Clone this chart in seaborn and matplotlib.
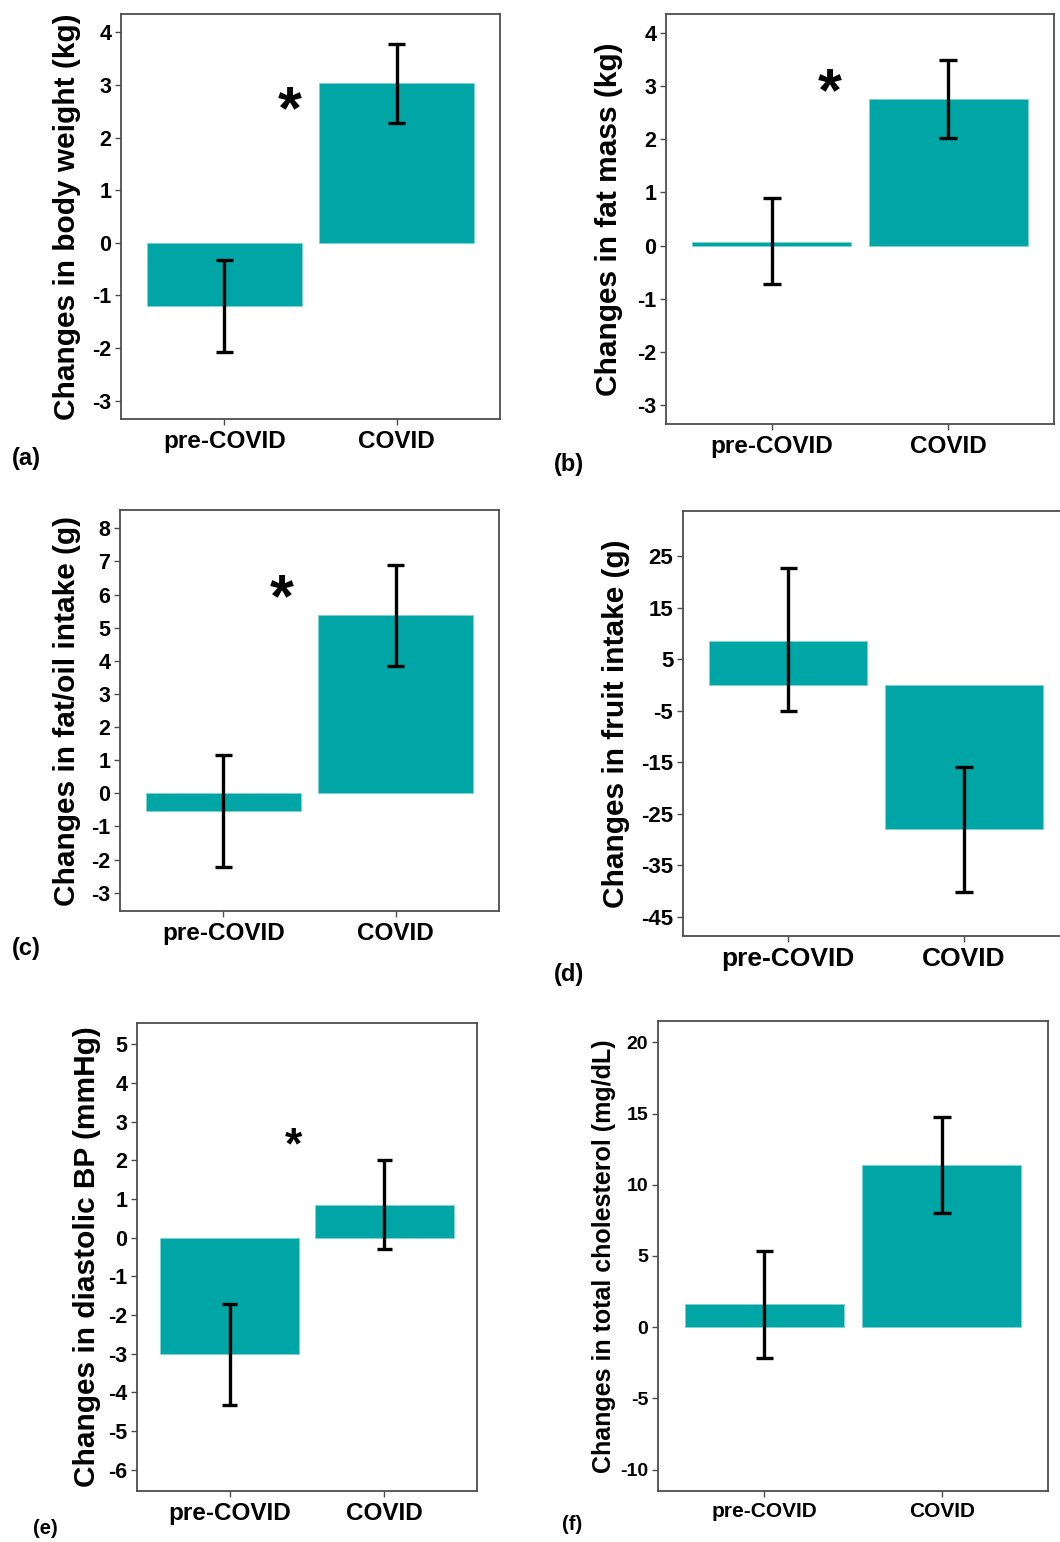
import matplotlib
matplotlib.use("Agg")
import matplotlib.pyplot as plt
import seaborn as sns
import pandas as pd
import numpy as np

# ---------------- data ----------------
groups = ["pre-COVID", "COVID"]

bw_mean = [-1.21, 3.03]
bw_lo = [-2.08, 2.27]
bw_hi = [-0.33, 3.78]

fm_mean = [0.07, 2.75]
fm_lo = [-0.72, 2.03]
fm_hi = [0.90, 3.48]

fat_mean = [-0.53, 5.37]
fat_lo = [-2.22, 3.84]
fat_hi = [1.15, 6.88]

fruit_mean = [8.5, -27.9]
fruit_lo = [-5.0, -40.3]
fruit_hi = [22.6, -15.9]

dbp_mean = [-3.01, 0.84]
dbp_lo = [-4.32, -0.30]
dbp_hi = [-1.72, 2.02]

chol_mean = [1.6, 11.36]
chol_lo = [-2.17, 8.0]
chol_hi = [5.38, 14.74]

ylabels = ["Changes in body weight (kg)",
           "Changes in fat mass (kg)",
           "Changes in fat/oil intake (g)",
           "Changes in fruit intake (g)",
           "Changes in diastolic BP (mmHg)",
           "Changes in total cholesterol (mg/dL)"]
panel_letters = ["(a)", "(b)", "(c)", "(d)", "(e)", "(f)"]

ticks_a = [-3, -2, -1, 0, 1, 2, 3, 4]
ticks_c = [-3, -2, -1, 0, 1, 2, 3, 4, 5, 6, 7, 8]
ticks_d = [-45, -35, -25, -15, -5, 5, 15, 25]
ticks_e = [-6, -5, -4, -3, -2, -1, 0, 1, 2, 3, 4, 5]
ticks_f = [-10, -5, 0, 5, 10, 15, 20]

# significance markers (x in category units, y in data units)
star_a = (0.38, 2.76)
star_b = (0.33, 3.12)
star_c = (0.34, 6.27)
star_e = (0.41, 2.62)

# ---------------- style ----------------
sns.set_theme(style="white")
plt.rcParams['font.family'] = ['Liberation Sans', 'DejaVu Sans']
plt.rcParams['font.weight'] = 'bold'
plt.rcParams['axes.labelweight'] = 'bold'

TEAL = "#00A6A6"
EDGE = "#7fd3d3"
SPINE = "#4d4d4d"

W, H = 1060, 1542
fig = plt.figure(figsize=(W / 100, H / 100), dpi=100)
fig.patch.set_facecolor("white")


def add_ax(left, right, top, bottom):
    return fig.add_axes([left / W, 1 - bottom / H, (right - left) / W, (bottom - top) / H])


def panel(ax, means, lo, hi, ylim, yticks, ylabel, label_x,
          ylab_fs=21.5, ytick_fs=15.5, xtick_fs=17.5, star=None, star_fs=44):
    df = pd.DataFrame({"group": groups, "value": means})
    sns.barplot(data=df, x="group", y="value", color=TEAL, saturation=1,
                width=0.9, ax=ax, edgecolor=EDGE, linewidth=0.6, errorbar=None)
    xs = np.arange(len(groups))
    ax.vlines(xs, lo, hi, color="black", lw=2.4, zorder=5)
    ax.hlines(lo, xs - 0.05, xs + 0.05, color="black", lw=2.4, zorder=5)
    ax.hlines(hi, xs - 0.05, xs + 0.05, color="black", lw=2.4, zorder=5)
    ax.set_xlim(-0.6, 1.6)
    ax.set_ylim(*ylim)
    ax.set_yticks(yticks)
    ax.set_yticklabels([str(t) for t in yticks])
    ax.set_xlabel("")
    ax.set_ylabel(ylabel, fontsize=ylab_fs, fontweight="bold", color="black")
    ax.yaxis.set_label_coords(label_x, 0.5)
    for sp in ax.spines.values():
        sp.set_color(SPINE)
        sp.set_linewidth(1.3)
        sp.set_visible(True)
    ax.tick_params(axis="both", which="major", direction="out", length=4,
                   width=1.0, color=SPINE, left=True, bottom=True)
    ax.tick_params(axis="y", labelsize=ytick_fs, pad=3, labelcolor="black")
    ax.tick_params(axis="x", labelsize=xtick_fs, pad=4, labelcolor="black")
    for t in ax.get_xticklabels() + ax.get_yticklabels():
        t.set_fontweight("bold")
    ax.grid(False)
    if star is not None:
        ax.annotate("*", xy=star, xytext=(0, -0.5 * star_fs), textcoords="offset points",
                    ha="center", va="baseline", fontsize=star_fs, fontweight="bold",
                    color="black")


ax_a = add_ax(121, 500, 14, 419)
panel(ax_a, bw_mean, bw_lo, bw_hi, (-3.35, 4.35), ticks_a, ylabels[0], -0.106, star=star_a)

ax_b = add_ax(666, 1054, 14, 424)
panel(ax_b, fm_mean, fm_lo, fm_hi, (-3.35, 4.35), ticks_a, ylabels[1], -0.111, star=star_b)

ax_c = add_ax(120, 499, 510, 911)
panel(ax_c, fat_mean, fat_lo, fat_hi, (-3.55, 8.55), ticks_c, ylabels[2], -0.103, star=star_c)

ax_d = add_ax(683, 1069, 511, 936)
panel(ax_d, fruit_mean, fruit_lo, fruit_hi, (-48.75, 33.75), ticks_d, ylabels[3], -0.137,
      ytick_fs=16, xtick_fs=19)

ax_e = add_ax(137, 477, 1023, 1491)
panel(ax_e, dbp_mean, dbp_lo, dbp_hi, (-6.55, 5.55), ticks_e, ylabels[4], -0.106,
      star=star_e, star_fs=32)

ax_f = add_ax(658, 1048, 1021, 1491)
panel(ax_f, chol_mean, chol_lo, chol_hi, (-11.5, 21.5), ticks_f, ylabels[5], -0.108,
      ylab_fs=18, ytick_fs=14, xtick_fs=15)

# panel letters (pixel centres)
letter_pos = [(26, 458, 17), (569, 464, 17), (26, 948, 17),
              (569, 975, 17), (45, 1529, 14.5), (572, 1524, 14.5)]
for txt, (px, py, fs) in zip(panel_letters, letter_pos):
    fig.text(px / W, 1 - py / H, txt, ha="center", va="center",
             fontsize=fs, fontweight="bold", color="black")

fig.savefig("out.png", dpi=100, facecolor="white")
